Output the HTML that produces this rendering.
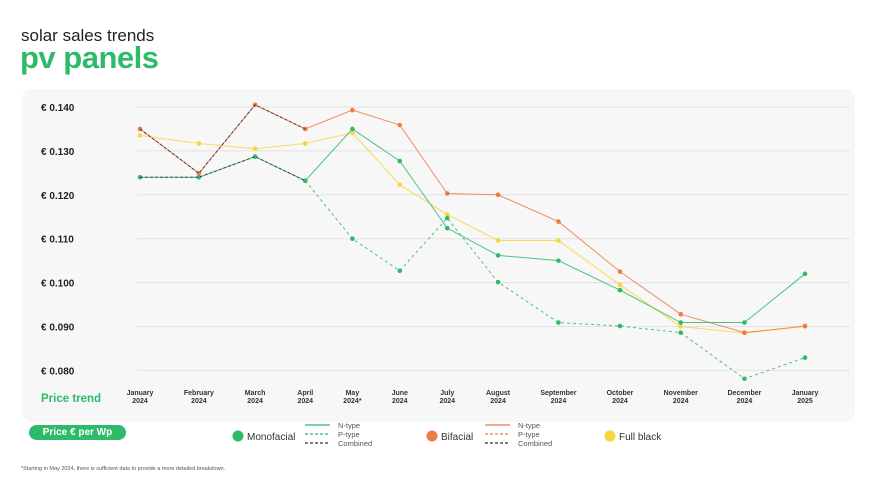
<!DOCTYPE html>
<html><head><meta charset="utf-8"><style>
body{margin:0;width:872px;height:491px;background:#fff;font-family:"Liberation Sans",sans-serif;position:relative;overflow:hidden}
.t1{position:absolute;left:21px;top:26px;font-size:17px;color:#222}
.t2{position:absolute;left:20px;top:40px;font-size:31px;font-weight:bold;color:#2dbb6a;letter-spacing:-0.5px}
.card{position:absolute;left:22px;top:89px;width:833px;height:333px;background:#f7f7f7;border-radius:10px}
.pill{position:absolute;left:29px;top:425px;width:97px;height:15px;border-radius:8px;background:#2dbb6a;color:#fff;font-size:10px;font-weight:bold;text-align:center;line-height:15px}
.note{position:absolute;left:21px;top:466px;font-size:5.5px;color:#555}
</style></head><body>
<div class="t1">solar sales trends</div>
<div class="t2">pv panels</div>
<div class="card"></div>
<div class="pill">Price € per Wp</div>
<div class="note">*Starting in May 2024, there is sufficient data to provide a more detailed breakdown.</div>
<svg id="c" width="872" height="491" style="position:absolute;left:0;top:0"></svg>
<script>
const categories=["January|2024","February|2024","March|2024","April|2024","May|2024*","June|2024","July|2024","August|2024","September|2024","October|2024","November|2024","December|2024","January|2025"];
const yTicks=[0.140,0.130,0.120,0.110,0.100,0.090,0.080];
const monoN=[0.124,0.124,0.1287,0.1232,0.135,0.1277,0.1124,0.1062,0.1050,0.0983,0.0909,0.0909,0.1020];
const monoP=[null,null,null,0.1232,0.110,0.1027,0.1147,0.1001,0.0909,0.0901,0.0886,0.0781,0.0829];
const monoComb=[0.124,0.124,0.1287,0.1232,null,null,null,null,null,null,null,null,null];
const biN=[0.135,0.1249,0.1405,0.135,0.1393,0.1359,0.1203,0.1200,0.1139,0.1025,0.0928,0.0886,0.0901];
const biComb=[0.135,0.1249,0.1405,0.135,null,null,null,null,null,null,null,null,null];
const fullBlack=[0.1335,0.1317,0.1305,0.1317,0.1341,0.1223,0.1155,0.1096,0.1096,0.0995,0.0900,0.0885,0.0900];
const GREEN="#2dbb6a",ORANGE="#f07a45",YELLOW="#f7d63a";
const svg=document.getElementById('c');const NS="http://www.w3.org/2000/svg";
function mk(tag,a,parent){const e=document.createElementNS(NS,tag);for(const k in a)e.setAttribute(k,a[k]);(parent||svg).appendChild(e);return e;}
const X0=140,X1=805;
const labelEls=categories.map(c=>{
 const p=c.split('|');
 const t=mk('text',{x:0,y:395,'font-size':7,'font-weight':'bold','text-anchor':'middle',fill:'#333'});
 
 
 const a=mk('tspan',{x:0,dy:0},t);a.textContent=p[0];
 const b=mk('tspan',{x:0,dy:8},t);b.textContent=p[1];
 return [t,a,b];
});
const widths=labelEls.map(l=>l[1].getComputedTextLength());
const gaps=[];for(let i=0;i<categories.length-1;i++)gaps.push(40+(widths[i]+widths[i+1])/2);
const gsum=gaps.reduce((s,g)=>s+g,0);
const xs=[X0];gaps.forEach(g=>xs.push(xs[xs.length-1]+g*(X1-X0)/gsum));
function x(i){return xs[i];}
function y(v){return 107+(0.140-v)*4390;}
labelEls.forEach((l,i)=>{l[1].setAttribute('x',x(i));l[2].setAttribute('x',x(i));});
yTicks.forEach(v=>{
 const l=mk('line',{x1:137,x2:850,y1:y(v),y2:y(v),stroke:'#e2e2e2','stroke-width':1});
 
 
 const t=mk('text',{x:41,y:y(v)+4,'font-size':10,'font-weight':'bold',fill:'#222'});t.textContent='€ '+v.toFixed(3);
 
 
});
const pt=mk('text',{x:41,y:402,'font-size':11.5,'font-weight':'bold',fill:GREEN});pt.textContent='Price trend';


function series(arr,col,dash,name,dots){
 const pts=[];arr.forEach((v,i)=>{if(v!=null)pts.push([x(i),y(v)]);});
 const p=mk('polyline',{points:pts.map(q=>q.join(',')).join(' '),fill:'none',stroke:col,'stroke-width':1,'stroke-dasharray':dash||'none',opacity:0.85});
 
 
 if(dots)pts.forEach(q=>{const d=mk('circle',{cx:q[0],cy:q[1],r:2.3,fill:col});
  
  });
}
series(fullBlack,YELLOW,null,'full-black-line',true);
series(biN,ORANGE,null,'bifacial-ntype-line',true);
series(biComb,'#333','3,2','bifacial-combined-line',false);
series(monoP,GREEN,'3,3','monofacial-ptype-line',true);
series(monoN,GREEN,null,'monofacial-ntype-line',true);
series(monoComb,'#333','3,2','monofacial-combined-line',false);
function lg(cx,col,label,name){const c=mk('circle',{cx:cx,cy:436,r:5.5,fill:col});
 
 
 const t=mk('text',{x:cx+9,y:440,'font-size':10,fill:'#333'});t.textContent=label;
 
 }
lg(238,GREEN,'Monofacial','monofacial');lg(432,ORANGE,'Bifacial','bifacial');lg(610,YELLOW,'Full black','full-black');
function sub(x0,col,name){
 [['N-type',428,'none',col],['P-type',437,'3,2',col],['Combined',446,'3,2','#333']].forEach(r=>{
  const l=mk('line',{x1:x0,x2:x0+25,y1:r[1]-3,y2:r[1]-3,stroke:r[3],'stroke-width':1.2,'stroke-dasharray':r[2]});
  
  
  const t=mk('text',{x:x0+33,y:r[1],'font-size':7.5,fill:'#555'});t.textContent=r[0];
  
  
 });}
sub(305,GREEN,'monofacial');sub(485,ORANGE,'bifacial');
</script>
</body></html>
